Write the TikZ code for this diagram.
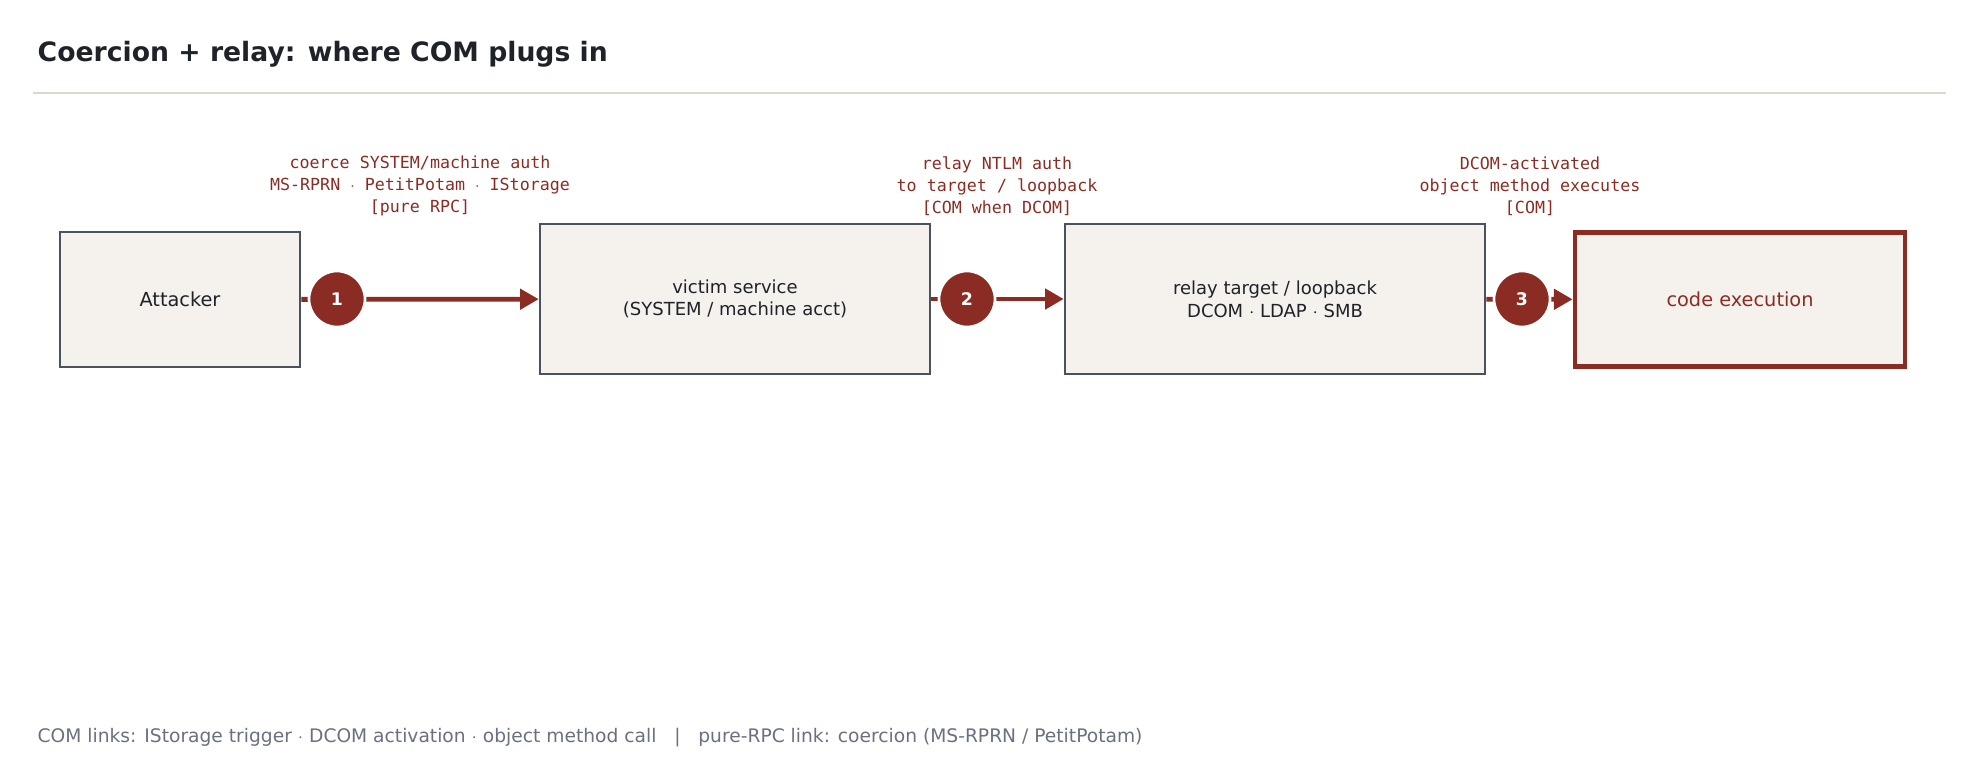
\documentclass[tikz,border=0pt]{standalone}
\usepackage{fontspec}
\setmainfont{DejaVu Sans}
\setmonofont{DejaVu Sans Mono}
\usetikzlibrary{arrows.meta}
\definecolor{rust}{HTML}{8B2C24}
\definecolor{paper}{HTML}{F5F2EE}
\definecolor{slate}{HTML}{4A5260}
\definecolor{ink}{HTML}{1F2228}
\definecolor{mute}{HTML}{6B7080}
\definecolor{rule}{HTML}{DDD8CC}

\begin{document}
\begin{tikzpicture}[x=0.75pt,y=-0.75pt,
  box/.style={draw=slate,line width=1.9pt,fill=paper,inner sep=0pt,
    font=\fontsize{13.5}{17}\selectfont,text=ink,align=center},
  badge/.style={circle,fill=rust,draw=white,line width=2pt,minimum size=42pt,
    inner sep=0pt,text=white,font=\bfseries\fontsize{13}{15}\selectfont},
  link/.style={rust,line width=3.6pt,-{Triangle[length=14pt,width=15pt]}},
  note/.style={text=rust,align=center,font=\ttfamily\fontsize{12.5}{16.5}\selectfont}]
\useasboundingbox (0,0) rectangle (1980,779);
% title
\node[anchor=west,font=\bfseries\fontsize{20}{24}\selectfont,text=ink] (title) at (33,54) {Coercion + relay: where COM plugs in};
\draw[rule,line width=1.3pt] (33,93) -- (1946,93);
% boxes
\node[box,minimum width=180pt,minimum height=101pt,font=\fontsize{14.5}{18}\selectfont] (att) at (180,299.5) {Attacker};
\node[box,minimum width=292.5pt,minimum height=112.5pt] (vic) at (735,299) {victim service\\(SYSTEM / machine acct)};
\node[box,minimum width=315pt,minimum height=112.5pt] (rel) at (1275,299) {relay target / loopback\\DCOM $\cdot$ LDAP $\cdot$ SMB};
\node[box,draw=rust,line width=3.6pt,text=rust,minimum width=247.5pt,minimum height=101pt,font=\fontsize{14.5}{18}\selectfont] (exe) at (1740,299.5) {code execution};
% links
\draw[link] (att) -- (vic);
\draw[link] (vic) -- (rel);
\draw[link] (rel) -- (exe);
\node[badge] (s1) at (337,299) {1};
\node[badge] (s2) at (967,299) {2};
\node[badge] (s3) at (1522,299) {3};
% labels
\node[note] (n1) at (420,186) {coerce SYSTEM/machine auth\\MS-RPRN $\cdot$ PetitPotam $\cdot$ IStorage\\{[pure RPC]}};
\node[note] (n2) at (997,186) {relay NTLM auth\\to target / loopback\\{[COM when DCOM]}};
\node[note] (n3) at (1530,186) {DCOM-activated\\object method executes\\{[COM]}};
% footer
\node[anchor=west,text=mute,font=\fontsize{14}{17}\selectfont] (foot) at (33,738) {COM links: IStorage trigger $\cdot$ DCOM activation $\cdot$ object method call \ \ | \ \ pure-RPC link: coercion (MS-RPRN / PetitPotam)};
\end{tikzpicture}
\end{document}
